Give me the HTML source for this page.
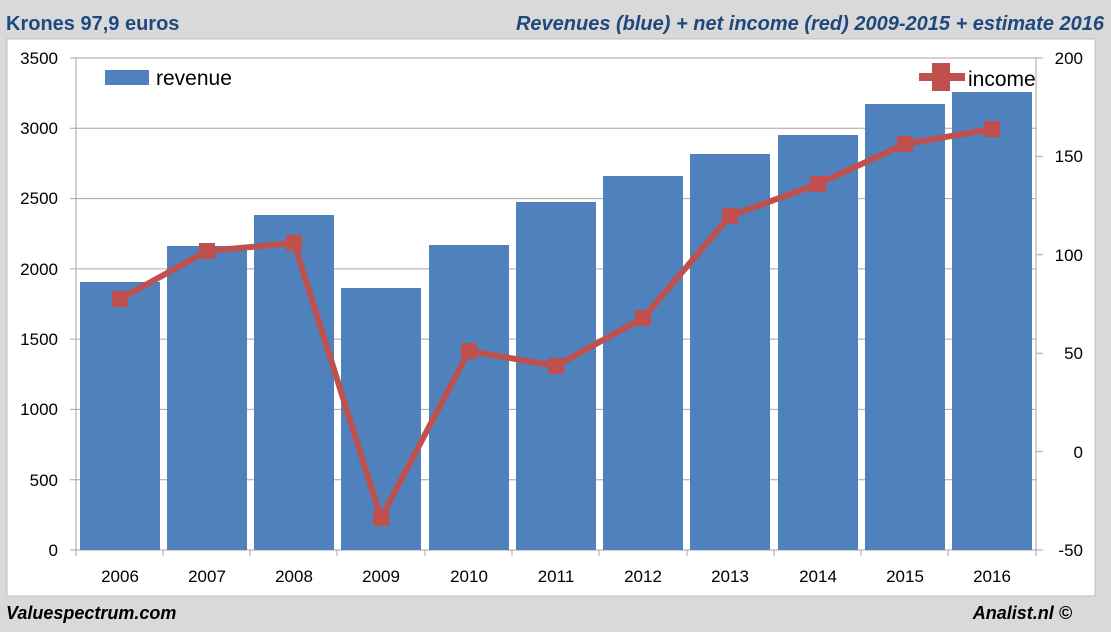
<!DOCTYPE html>
<html><head><meta charset="utf-8"><style>
body{margin:0;width:1111px;height:627px;background:#d9d9d9;overflow:hidden;font-family:"Liberation Sans",sans-serif}
</style></head><body>
<svg width="1111" height="627" xmlns="http://www.w3.org/2000/svg" font-family="Liberation Sans, sans-serif">
<rect x="0" y="0" width="1111" height="627" fill="#d9d9d9"/>
<rect x="7" y="39" width="1088" height="557" fill="#fff" stroke="#bfbfbf"/>
<text x="6" y="30" font-size="20" font-weight="bold" fill="#1f497d">Krones  97,9 euros</text>
<text x="1104" y="30" font-size="20" font-weight="bold" font-style="italic" fill="#1f497d" text-anchor="end">Revenues (blue) + net income (red) 2009-2015 + estimate 2016</text>
<text x="6" y="619" font-size="18" font-weight="bold" font-style="italic" fill="#000">Valuespectrum.com</text>
<text x="1072" y="619" font-size="18" font-weight="bold" font-style="italic" fill="#000" text-anchor="end">Analist.nl ©</text>
<g stroke="#a6a6a6" stroke-width="1">
<line x1="70" y1="58" x2="1036" y2="58"/><line x1="70" y1="128.3" x2="1036" y2="128.3"/>
<line x1="70" y1="198.6" x2="1036" y2="198.6"/><line x1="70" y1="268.9" x2="1036" y2="268.9"/>
<line x1="70" y1="339.1" x2="1036" y2="339.1"/><line x1="70" y1="409.4" x2="1036" y2="409.4"/>
<line x1="70" y1="479.7" x2="1036" y2="479.7"/><line x1="70" y1="550" x2="1036" y2="550"/>
<line x1="76" y1="58" x2="76" y2="556"/><line x1="1036" y1="58" x2="1036" y2="550"/>
<line x1="1036" y1="58" x2="1043" y2="58"/><line x1="1036" y1="156.4" x2="1043" y2="156.4"/>
<line x1="1036" y1="254.8" x2="1043" y2="254.8"/><line x1="1036" y1="353.2" x2="1043" y2="353.2"/>
<line x1="1036" y1="451.6" x2="1043" y2="451.6"/><line x1="1036" y1="550" x2="1043" y2="550"/>
</g>
<g fill="#4f81bd">
<rect x="80" y="282" width="80" height="268"/>
<rect x="167" y="246" width="80" height="304"/>
<rect x="254" y="215" width="80" height="335"/>
<rect x="341" y="288" width="80" height="262"/>
<rect x="429" y="245" width="80" height="305"/>
<rect x="516" y="202" width="80" height="348"/>
<rect x="603" y="176" width="80" height="374"/>
<rect x="690" y="154" width="80" height="396"/>
<rect x="778" y="135" width="80" height="415"/>
<rect x="865" y="104" width="80" height="446"/>
<rect x="952" y="92" width="80" height="458"/>
</g>
<g stroke="#a6a6a6"><line x1="163" y1="550" x2="163" y2="556"/><line x1="250" y1="550" x2="250" y2="556"/><line x1="337" y1="550" x2="337" y2="556"/><line x1="425" y1="550" x2="425" y2="556"/><line x1="512" y1="550" x2="512" y2="556"/><line x1="599" y1="550" x2="599" y2="556"/><line x1="687" y1="550" x2="687" y2="556"/><line x1="774" y1="550" x2="774" y2="556"/><line x1="861" y1="550" x2="861" y2="556"/><line x1="948" y1="550" x2="948" y2="556"/><line x1="1036" y1="550" x2="1036" y2="556"/></g>
<polyline fill="none" stroke="#c0504d" stroke-width="6" stroke-linejoin="round" points="120,299 207,251 294,243 381,518 469,351 556,366 643,318 730,216 818,184 905,144 992,129"/>
<g fill="#c0504d">
<rect x="112" y="291" width="16" height="16"/><rect x="199" y="243" width="16" height="16"/><rect x="286" y="235" width="16" height="16"/><rect x="373" y="510" width="16" height="16"/><rect x="461" y="343" width="16" height="16"/><rect x="548" y="358" width="16" height="16"/><rect x="635" y="310" width="16" height="16"/><rect x="722" y="208" width="16" height="16"/><rect x="810" y="176" width="16" height="16"/><rect x="897" y="136" width="16" height="16"/><rect x="984" y="121" width="16" height="16"/>
</g>
<g font-size="17" fill="#000" text-anchor="end">
<text x="58" y="64">3500</text><text x="58" y="134">3000</text><text x="58" y="204">2500</text><text x="58" y="275">2000</text><text x="58" y="345">1500</text><text x="58" y="415">1000</text><text x="58" y="486">500</text><text x="58" y="556">0</text>
</g>
<g font-size="17" fill="#000" text-anchor="end">
<text x="1083" y="64">200</text><text x="1083" y="162">150</text><text x="1083" y="261">100</text><text x="1083" y="359">50</text><text x="1083" y="458">0</text><text x="1083" y="556">-50</text>
</g>
<g font-size="17" fill="#000" text-anchor="middle">
<text x="120" y="582">2006</text><text x="207" y="582">2007</text><text x="294" y="582">2008</text><text x="381" y="582">2009</text><text x="469" y="582">2010</text><text x="556" y="582">2011</text><text x="643" y="582">2012</text><text x="730" y="582">2013</text><text x="818" y="582">2014</text><text x="905" y="582">2015</text><text x="992" y="582">2016</text>
</g>
<rect x="0" y="0" width="0" height="0"/>
<rect x="105" y="70" width="44" height="15" fill="#4f81bd"/>
<text x="156" y="85" font-size="21" fill="#000">revenue</text>
<rect x="919" y="73" width="46" height="8" fill="#c0504d"/>
<rect x="932" y="63" width="18" height="28" fill="#c0504d"/>
<text x="968" y="86" font-size="21" fill="#000">income</text>
</svg>
</body></html>
